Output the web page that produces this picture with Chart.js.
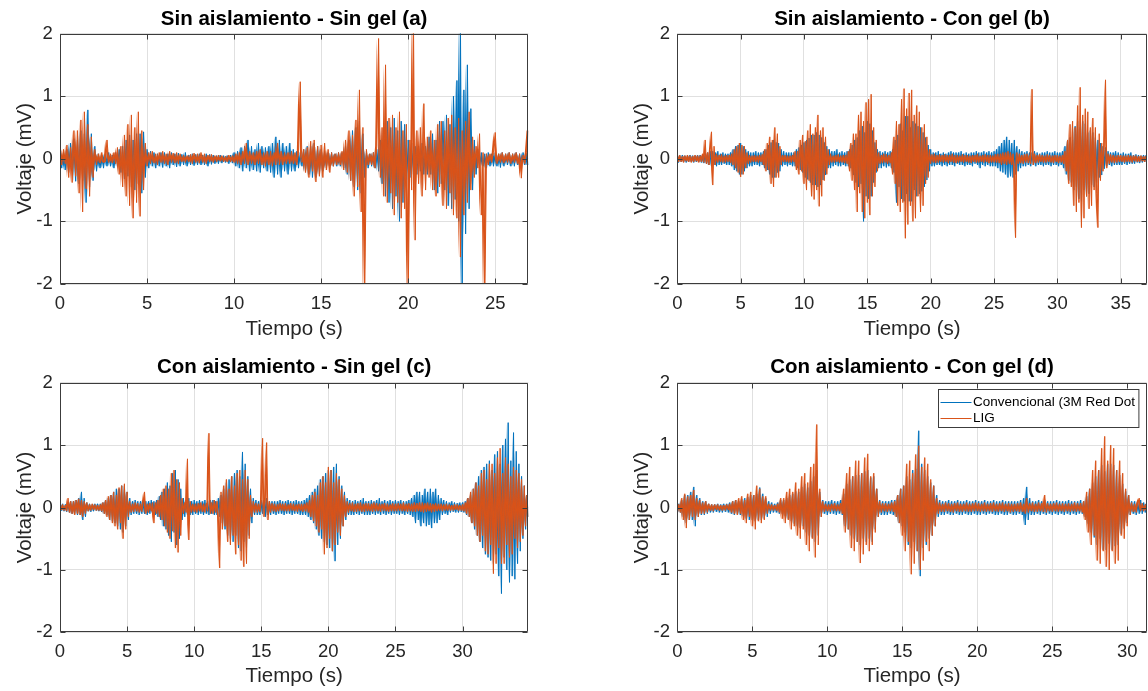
<!DOCTYPE html>
<html>
<head>
<meta charset="utf-8">
<script src="https://cdn.jsdelivr.net/npm/chart.js@4.4.1/dist/chart.umd.min.js"></script>
<style>
  html, body { margin: 0; padding: 0; background: #fff; }
  body { width: 1148px; height: 691px; position: relative; overflow: hidden; }
  canvas { position: absolute; }
</style>
</head>
<body>
<canvas id="panelA" width="574" height="345" style="left:0;top:0"></canvas>
<canvas id="panelB" width="531" height="345" style="left:617px;top:0"></canvas>
<canvas id="panelC" width="574" height="346" style="left:0;top:345px"></canvas>
<canvas id="panelD" width="531" height="346" style="left:617px;top:345px"></canvas>
<script>
// sampling step of the stored traces (s); one line below = one second
const DT = 0.1;

const titles = [
	"Sin aislamiento - Sin gel (a)",
	"Sin aislamiento - Con gel (b)",
	"Con aislamiento - Sin gel (c)",
	"Con aislamiento - Con gel (d)"
];
const xMaxs = [26.9, 37.05, 34.9, 31.3];
const yTicks = [-2, -1, 0, 1, 2];
const seriesNames = ["Convencional (3M Red Dot", "LIG"];

// (a) voltage, mV
const convA = [
	.05,-.15,.1,-.18,.15,-.22,.25,-.2,.32,-.36,
	.3,-.4,.45,-.35,.4,-.7,.78,-.45,.4,-.35,
	.2,-.2,.08,-.15,.06,-.15,.08,-.12,.1,-.12,
	.06,-.15,.1,-.12,.15,-.22,.2,-.32,.3,-.28,
	.38,-.45,.3,-.5,.4,-.4,.4,-.55,.43,-.3,
	.15,-.15,.12,-.12,.1,-.15,.08,-.12,.1,-.14,
	.1,-.12,.08,-.15,.1,-.1,.08,-.13,.09,-.12,
	.07,-.1,.1,-.12,.06,-.1,.08,-.11,.07,-.1,
	.08,-.1,.06,-.1,.08,-.12,.07,-.09,.06,-.08,
	.05,-.08,.06,-.07,.05,-.06,.05,-.08,.06,-.07,
	.1,-.12,.12,-.15,.18,-.2,.2,-.15,.3,-.2,
	.2,-.18,.15,-.2,.25,-.22,.2,-.15,.18,-.2,
	.2,-.22,.25,-.3,.35,-.25,.3,-.3,.25,-.2,
	.2,-.25,.25,-.2,.15,-.2,.12,-.15,.1,-.12,
	.15,-.2,.2,-.25,.2,-.3,.25,-.3,.2,-.25,
	.15,-.2,.12,-.15,.1,-.12,.1,-.12,.08,-.12,
	.1,-.12,.1,-.15,.2,-.25,.3,-.35,.45,-.45,
	.5,-.5,.6,-.55,.4,-.3,.12,-.15,.08,-.12,
	.1,-.15,.15,-.2,.3,-.4,.5,-.6,.6,-.7,
	.5,-.8,.65,-.6,.45,-1.0,.6,-.7,.55,-.5,
	.3,-.3,.25,-.25,.2,-.25,.2,-.2,.25,-.25,
	.2,-.25,.35,-.25,.4,-.5,.3,-.55,.6,-.4,
	.6,-.5,.7,-.75,.55,-.8,1.0,-.65,1.25,-1.0,
	2.2,-2.2,1.1,-1.2,1.5,-.8,.8,-.5,.3,-.25,
	.15,-.15,.1,-.12,.08,-.15,.1,-.12,.08,-.12,
	.1,-.12,.08,-.14,.1,-.12,.08,-.1,.1,-.12,
	.08,-.12,.1,-.1,.08,-.12,.1,-.1,.08,-.1
];
const ligA = [
	.05,-.1,.15,-.08,.22,-.3,.18,-.38,.45,-.28,
	.45,-.55,.62,-.85,.75,-.48,.55,-.6,.35,-.3,
	.15,-.1,.08,-.07,.1,-.06,-.05,.3,-.06,.08,
	-.07,.1,-.08,.18,-.25,.2,-.45,.38,-.6,.55,
	-.75,.7,-.95,.5,-.7,.75,-.92,.45,-.5,.25,
	-.12,.1,-.08,.12,-.07,.08,-.1,.1,-.06,.12,
	-.08,.08,-.1,.12,-.06,.09,-.07,.1,-.08,.08,
	-.05,.06,-.06,.05,-.05,.07,-.08,.09,-.06,.08,
	-.07,.1,-.06,.08,-.08,.06,-.05,.07,-.06,.05,
	-.05,.06,-.04,.05,-.05,.04,-.05,.06,-.05,.05,
	-.06,.08,-.08,.1,-.1,.12,-.08,.25,-.1,.12,
	-.08,.1,-.1,.12,-.08,.15,-.1,.1,-.12,.12,
	-.1,.12,-.12,.1,-.1,.25,-.1,.12,-.1,.1,
	-.08,.1,-.08,.12,-.08,.1,-.1,.08,1.23,-.06,
	.15,-.22,.18,-.3,.28,-.2,.3,-.37,.2,-.28,
	.22,-.3,.25,-.18,.15,-.22,.1,-.12,.08,-.1,
	.1,-.1,.12,-.18,.3,-.22,.45,-.35,.38,-.6,
	.62,-.45,1.1,-.85,.5,-2.3,.15,-.1,.08,-.1,
	.1,-.15,.2,1.92,-.3,.5,-.6,1.5,-.7,.65,
	-.55,.7,-.9,.5,-.7,.75,-.95,.45,-.8,.55,
	-2.3,.3,-.5,2.3,-1.3,.45,-.4,.5,-.6,.88,
	-.5,.35,-.3,.45,-.5,.3,-.6,.55,-.45,.6,
	-.75,.45,-.8,.65,-.55,.7,-.9,.5,-.95,.65,
	-1.57,.45,-.9,.6,-.7,.75,-.5,.35,-.3,.2,
	-.15,.4,-.9,.1,-2.3,.08,-.1,.08,-.06,.1,
	.42,-.08,.08,-.06,.1,-.07,.08,-.06,.1,-.08,
	.08,-.06,.1,-.08,.08,-.31,.06,-.08,.1,.45
];

// (b)
const convB = [
	.04,-.06,.05,-.05,.06,-.05,.05,-.06,.04,-.05,
	.06,-.05,.05,-.06,.05,-.05,.06,-.05,.06,-.06,
	.06,-.07,.08,-.08,.1,-.1,.12,-.12,.12,-.1,
	.1,-.12,.12,-.1,.08,-.1,.1,-.08,.08,-.1,
	.08,-.1,.1,-.12,.15,-.18,.2,-.2,.22,-.25,
	.25,-.25,.2,-.2,.15,-.15,.12,-.12,.1,-.12,
	.1,-.1,.12,-.1,.1,-.12,.1,-.1,.12,-.15,
	.15,-.18,.22,-.25,.26,-.3,.3,-.3,.26,-.22,
	.25,-.2,.15,-.12,.12,-.1,.1,-.12,.1,-.1,
	.1,-.12,.1,-.12,.15,-.15,.18,-.18,.22,-.22,
	.26,-.3,.3,-.33,.33,-.38,.38,-.42,.38,-.42,
	.42,-.45,.38,-.42,.34,-.34,.26,-.26,.2,-.15,
	.15,-.15,.12,-.12,.12,-.1,.15,-.12,.1,-.12,
	.12,-.1,.1,-.12,.12,-.12,.15,-.15,.22,-.26,
	.3,-.38,.34,-.45,.45,-.4,.52,-1.0,.42,-.6,
	.6,-.64,.56,-.6,.45,-.38,.26,-.22,.15,-.15,
	.12,-.15,.1,-.12,.12,-.14,.1,-.12,.12,-.15,
	.15,-.22,.3,-.7,.38,-.45,.56,-.64,.45,-.68,
	.68,-.56,.68,-.68,.5,-.68,.6,-.5,.56,-.6,
	.52,-.56,.5,-.52,.42,-.45,.34,-.34,.22,-.2,
	.15,-.12,.1,-.12,.1,-.1,.12,-.1,.08,-.12,
	.1,-.1,.08,-.12,.1,-.1,.12,-.1,.1,-.12,
	.1,-.08,.1,-.1,.12,-.1,.08,-.12,.1,-.1,
	.08,-.1,.1,-.12,.1,-.08,.12,-.1,.1,-.15,
	.1,-.1,.12,-.12,.1,-.1,.12,-.12,.1,-.12,
	.12,-.12,.15,-.15,.2,-.2,.25,-.22,.3,-.25,
	.35,-.3,.3,-.28,.25,-.3,.3,-.25,.2,-.2,
	.15,-.15,.12,-.12,.1,-.12,.12,-.1,.1,-.12,
	.1,-.1,.12,-.12,.1,-.1,.08,-.1,.1,-.12,
	.1,-.1,.12,-.1,.1,-.12,.1,-.1,.12,-.1,
	.1,-.12,.1,-.1,.12,-.15,.2,-.25,.3,-.35,
	.34,-.38,.3,-.5,.52,-.45,.6,-.64,.5,-.68,
	.6,-.5,.56,-.6,.42,-.56,.45,-.42,.42,-.45,
	.34,-.38,.3,-.3,.25,-.26,.2,-.16,.18,-.12,
	.12,-.1,.1,-.12,.1,-.1,.12,-.1,.1,-.1,
	.08,-.1,.1,-.08,.08,-.1,.08,-.08,.1,-.08,
	.06,-.08,.07,-.06,.06,-.07,.05,-.06,.06,-.05,
	.05
];
const ligB = [
	.03,-.05,.06,-.05,.04,-.06,.05,-.04,.06,-.05,
	.05,-.06,.04,-.05,.06,-.04,.05,-.06,.05,-.05,
	.08,-.06,.3,-.08,.1,-.1,.15,.43,-.42,.2,
	-.1,.08,-.06,.06,-.05,.07,-.06,.05,-.06,.06,
	-.05,.06,-.06,.08,-.1,.15,-.15,.2,-.22,.25,
	-.29,.22,-.25,.2,-.15,.1,-.08,.06,-.06,.05,
	-.05,.06,-.05,.05,-.06,.06,-.05,.07,-.1,.15,
	-.2,.25,-.18,.35,-.4,.3,-.45,.5,-.3,.4,
	-.3,.2,-.1,.06,-.05,.06,-.05,.05,-.06,.05,
	-.06,.06,-.05,.12,-.18,.12,-.25,.3,-.2,.38,
	-.4,.28,-.5,.45,-.35,.55,-.6,.4,-.65,.5,
	-.5,.7,-.76,.45,-.6,.5,-.35,.35,-.25,.15,
	-.1,.08,-.06,.05,-.06,.06,-.05,.07,-.06,.05,
	-.06,.06,-.07,.06,-.08,.12,-.2,.25,-.35,.4,
	-.5,.4,-.85,.7,-.55,.75,-.85,.6,-.95,.9,
	-.7,.95,-.9,1.03,-.6,.5,-.45,.3,-.2,.1,
	-.08,.06,-.07,.08,-.06,.07,-.08,.06,-.07,.1,
	-.25,.35,-.4,.6,-.75,.55,-.85,.95,-.7,1.12,
	-1.27,.8,-1.05,1.05,-.75,1.1,-1.0,.7,-.95,.85,
	-.6,.75,-.85,.5,-.75,.55,-.4,.35,-.3,.15,
	-.08,.07,-.06,.08,-.07,.06,-.06,.07,-.05,.06,
	-.06,.07,-.05,.06,-.07,.06,-.05,.08,-.06,.06,
	-.07,.06,-.06,.05,-.05,.07,-.06,.06,-.05,.06,
	-.06,.05,-.07,.06,-.05,.06,-.06,.08,-.06,.05,
	-.05,.06,-.06,.07,-.05,.06,-.07,.06,-.06,.05,
	-.06,.07,-.06,.08,-.07,.08,-.1,.1,-.08,.1,
	-.1,.12,-.08,.1,-.1,.08,-.12,-1.26,.1,-.08,
	.08,-.07,.06,-.08,.07,-.06,.08,-.07,.06,-.08,
	1.11,-.1,.08,-.07,.06,-.06,.07,-.05,.06,-.06,
	.05,-.06,.07,-.05,.06,-.06,.05,-.07,.06,-.05,
	.06,-.07,.05,-.06,.06,-.08,.12,-.2,.3,-.4,
	.55,-.45,.6,-.75,.5,-.85,.85,-.7,1.14,-1.1,
	.7,-.95,.8,-.6,.75,-.8,.5,-.75,.65,-.5,
	.5,-.55,-1.1,.4,-.35,.25,-.2,.15,1.26,-.15,
	.08,-.08,.07,-.06,.06,-.07,.05,-.06,.06,-.05,
	.06,-.05,.05,-.06,.05,-.05,.06,-.05,.05,-.06,
	.05,-.04,.05,-.05,.04,-.05,.05,-.04,.04,-.05,
	.04
];

// (c)
const convC = [
	0,-.05,.06,-.06,.05,-.07,.08,-.08,.1,-.1,
	.1,-.1,.12,-.12,.15,-.12,.25,-.2,.15,-.15,
	.08,-.06,.06,-.07,.05,-.06,.06,-.05,.06,-.06,
	.06,-.07,.08,-.1,.12,-.12,.15,-.2,.2,-.22,
	.25,-.25,.3,-.3,.3,-.35,.35,-.4,.35,-.3,
	.25,-.2,.15,-.12,.1,-.1,.12,-.1,.1,-.12,
	.1,-.1,.12,-.1,.1,-.12,.1,-.1,.12,-.1,
	.1,-.12,.12,-.15,.18,-.2,.25,-.3,.3,-.35,
	.4,-.45,.35,-.55,.55,-.4,.6,-.6,.45,-.5,
	.3,-.2,.15,-.15,.12,-.12,.15,-.12,.1,-.12,
	.12,-.1,.1,-.12,.12,-.1,.1,-.12,.12,-.1,
	.1,-.12,.12,-.1,.12,-.12,.1,-.12,.15,-.15,
	.2,-.25,.3,-.35,.4,-.45,.45,-.5,.5,-.55,
	.55,-.45,.6,-.65,.5,-.7,.89,-.55,.7,-.65,
	.5,-.45,.3,-.25,.15,-.12,.12,-.12,.1,-.12,
	.12,-.1,.12,-.15,.15,-.12,.1,-.12,.1,-.1,
	.1,-.12,.1,-.1,.12,-.1,.1,-.12,.1,-.1,
	.12,-.1,.1,-.12,.1,-.1,.12,-.1,.1,-.12,
	.1,-.12,.12,-.12,.15,-.15,.2,-.2,.25,-.25,
	.3,-.35,.35,-.45,.45,-.5,.5,-.55,.55,-.6,
	.6,-.65,.6,-.7,.65,-.86,.7,-.6,.5,-.5,
	.35,-.3,.25,-.2,.15,-.12,.12,-.12,.1,-.12,
	.12,-.1,.1,-.12,.12,-.1,.15,-.12,.1,-.12,
	.1,-.12,.12,-.1,.1,-.12,.12,-.1,.15,-.12,
	.1,-.1,.12,-.12,.1,-.1,.12,-.12,.1,-.1,
	.12,-.1,.1,-.12,.12,-.1,.1,-.12,.1,-.1,
	.12,-.12,.15,-.15,.2,-.25,.25,-.2,.25,-.3,
	.2,-.25,.3,-.3,.25,-.28,.3,-.33,.25,-.25,
	.3,-.25,.2,-.2,.15,-.12,.12,-.1,.1,-.12,
	.08,-.08,.1,-.07,.08,-.08,.07,-.08,.08,-.07,
	.08,-.08,.1,-.12,.15,-.15,.2,-.25,.3,-.35,
	.4,-.45,.5,-.55,.6,-.65,.65,-.75,.7,-.8,
	.75,-.85,.6,-.9,.85,-.75,.9,-1.1,.7,-1.38,
	1.0,-.8,1.1,-1.0,1.36,-1.2,.75,-1.1,1.2,-1.15,
	.9,-.9,.7,-.7,.5,-.5,.35,-.35,.2,-.15
];
const ligC = [
	0,-.04,.05,-.05,.04,-.06,.15,-.08,.1,-.1,
	.1,-.12,.12,-.1,.14,-.12,.12,-.15,.1,-.1,
	.08,-.06,.05,-.05,.06,-.04,.05,-.05,.04,-.05,
	.05,-.06,.08,-.1,.12,-.15,.18,-.2,.2,-.25,
	.25,-.3,.2,-.35,.32,-.25,.35,-.5,.38,-.35,
	.25,-.15,.1,-.08,.06,-.07,.08,-.06,.07,-.08,
	.06,-.07,.08,.25,-.1,.06,-.08,.07,-.06,.08,
	-.25,.08,-.1,.12,-.15,.2,-.2,.3,-.3,.35,
	-.4,.3,-.5,.55,-.38,.6,-.65,.45,-.72,.4,
	-.45,.15,-.1,.08,-.08,.78,-.52,.1,-.08,.06,
	-.07,.06,-.08,.07,-.06,.08,-.07,.06,-.08,.07,
	-.06,1.19,-.1,.08,-.1,.12,-.08,.1,-.12,-.97,
	.25,-.35,.35,-.3,.45,-.55,.3,-.6,.5,-.45,
	.35,-.75,.55,-.6,.6,-.85,.45,-.95,.6,-.9,
	.45,-.5,.2,-.15,.1,-.08,.07,-.08,.06,-.07,
	.08,1.11,-.15,.1,1.04,-.2,.1,-.08,.07,-.06,
	.06,-.07,.05,-.06,.07,-.05,.06,-.06,.07,-.06,
	.05,-.06,.07,-.05,.06,-.06,.05,-.07,.06,-.05,
	.06,-.07,.06,-.06,.08,-.08,.12,-.15,.2,-.22,
	.25,-.3,.2,-.4,.4,-.35,.5,-.75,.4,-.65,
	.65,-.5,.6,-.7,.4,-.6,.55,-.4,.45,-.45,
	.3,-.3,.2,-.15,.1,-.08,.07,-.06,.08,-.07,
	.06,-.07,.07,-.06,.08,-.07,.06,-.07,.07,-.06,
	.07,-.06,.06,-.07,.08,-.06,.07,-.06,.06,-.07,
	.06,-.05,.07,-.06,.06,-.07,.05,-.06,.07,-.06,
	.06,-.06,.07,-.05,.06,-.06,.08,-.06,.06,-.07,
	.07,-.06,.06,-.07,.08,-.07,.07,-.06,.08,-.07,
	.08,-.08,.07,-.07,.08,-.06,.07,-.08,.06,-.07,
	.07,-.06,.06,-.05,.06,-.06,.05,-.05,.06,-.05,
	.05,-.05,.04,-.05,.05,-.04,.05,-.05,.04,-.05,
	.05,-.06,.08,-.1,.15,-.15,.25,-.25,.3,-.3,
	.4,-.45,.35,-.55,.55,-.45,.6,-.7,.45,-.75,
	.7,-.6,.7,-1.06,.55,-.9,.8,-.65,.95,-.9,
	.55,-.9,.8,-.6,.7,-.8,.5,-.75,.65,-.5,
	.6,-.65,.55,-.55,.45,-.45,.35,-.3,.2,-.15
];

// (d)
const convD = [
	0,.06,-.08,.12,-.15,.2,-.25,.2,-.2,.25,
	-.2,.33,-.3,.2,-.15,.15,-.12,.1,-.12,.1,
	-.1,.06,-.08,.05,-.08,.05,-.07,.06,-.08,.05,
	-.08,.06,-.07,.06,-.08,.08,-.1,.1,-.12,.12,
	-.1,.1,-.12,.14,-.14,.15,-.18,.17,-.2,.2,
	-.2,.2,-.22,.22,-.2,.32,-.2,.22,-.18,.15,
	-.15,.1,-.1,.08,-.08,.06,-.08,.08,-.1,.12,
	-.1,.12,-.14,.15,-.18,.2,-.22,.22,-.26,.26,
	-.3,.25,-.33,.33,-.3,.38,-.4,.32,-.45,.42,
	-.48,.5,-.55,.6,-.45,.25,-.15,.12,-.1,.1,
	-.12,.1,-.1,.12,-.1,.1,-.12,.1,-.1,.12,
	-.12,.22,-.3,.38,-.35,.45,-.45,.5,-.5,.52,
	-.55,.52,-.6,.55,-.5,.58,-.55,.6,-.5,.48,
	-.55,.5,-.35,.3,-.15,.12,-.12,.1,-.12,.1,
	-.12,.1,-.1,.12,-.12,.12,-.15,.2,-.25,.3,
	-.3,.35,-.4,.5,-.6,.45,-.65,.6,-.55,.62,
	-.7,1.23,-1.1,.7,-.65,.6,-.6,.5,-.5,.4,
	-.45,.35,-.3,.2,-.15,.12,-.12,.1,-.12,.1,
	-.1,.12,-.12,.1,-.12,.1,-.1,.12,-.12,.1,
	-.12,.1,-.1,.12,-.12,.1,-.12,.1,-.1,.12,
	-.12,.1,-.12,.1,-.1,.12,-.12,.1,-.1,.1,
	-.1,.12,-.12,.1,-.12,.1,-.1,.12,-.12,.1,
	-.12,.1,-.1,.1,-.12,.1,-.12,.1,-.1,.12,
	-.12,.15,-.28,.33,-.2,.15,-.12,.1,-.12,.1,
	-.1,.12,-.12,.1,-.1,.12,-.12,.1,-.1,.1,
	-.12,.1,-.1,.12,-.12,.1,-.1,.1,-.12,.1,
	-.1,.12,-.12,.1,-.1,.1,-.12,.1,-.1,.12,
	-.1,.1,-.15,.18,-.26,.3,-.4,.4,-.48,.5,
	-.6,.6,-.5,.68,-.68,.58,-.68,.7,-.58,.7,
	-.68,.68,-.62,.6,-.6,.52,-.42,.38,-.34,.26,
	-.25,.2,-.12,.1,-.1,.1,-.12,.1,-.1,.12,
	-.1,.08,-.08,.06
];
const ligD = [
	0,.05,-.08,.15,-.2,.22,-.33,.18,-.2,.2,
	-.15,.28,-.2,.15,-.15,.12,-.1,.08,-.1,.1,
	-.08,.06,-.05,.05,-.06,.05,-.04,.05,-.05,.04,
	-.05,.04,-.05,.05,-.04,.06,-.08,.1,-.1,.12,
	-.12,.15,-.1,.18,-.2,.12,-.25,.22,-.15,.25,
	-.3,.2,-.35,.35,-.22,.3,-.25,.18,-.2,.18,
	-.1,.06,-.05,.05,-.05,.04,-.05,.06,-.08,.15,
	-.18,.15,-.25,.25,-.2,.3,-.35,.25,-.3,.4,
	-.45,.3,-.5,.5,-.35,.55,-.6,.4,-.7,.65,
	-.5,.7,-.8,1.33,-.6,.3,-.15,.1,-.07,.06,
	-.06,.05,-.07,.06,-.05,.07,-.06,.05,-.06,.07,
	-.1,.3,-.4,.55,-.35,.65,-.65,.5,-.7,.75,
	-.55,.75,-.89,.55,-.75,.8,-.6,.86,-.7,.5,
	-.6,.55,-.4,.3,-.15,.1,-.08,.07,-.06,.07,
	-.07,.06,-.06,.08,-.07,.1,-.15,.2,-.25,.3,
	-.45,.35,-.7,.7,-.55,.75,-1.07,.55,-.9,.85,
	-.7,.99,-1.0,.65,-.85,.8,-.55,.7,-.7,.45,
	-.45,.35,-.3,.15,-.1,.08,-.07,.06,-.07,.08,
	-.06,.07,-.07,.06,-.08,.07,-.06,.08,-.07,.06,
	-.07,.06,-.06,.08,-.07,.06,-.07,.07,-.06,.08,
	-.06,.07,-.07,.06,-.06,.08,-.07,.06,-.06,.07,
	-.07,.08,-.06,.06,-.07,.07,-.06,.08,-.07,.06,
	-.06,.07,-.08,.06,-.07,.06,-.06,.07,-.07,.08,
	-.07,.06,-.1,.15,-.08,.07,-.06,.08,-.07,.06,
	-.07,.08,-.06,.07,-.07,.2,-.08,.07,-.06,.06,
	-.07,.07,-.06,.08,-.07,.06,-.06,.07,-.07,.06,
	-.06,.07,-.07,.06,-.06,.08,-.07,.07,-.06,.07,
	-.08,.1,-.2,.25,-.4,.3,-.6,.6,-.45,.75,
	-.85,.6,-.9,.95,-.7,1.14,-.95,.75,-1.0,1.0,
	-.7,.95,-.9,.6,-.85,.75,-.45,.55,-.5,.3,
	-.3,.2,-.12,.08,-.07,.06,-.08,.07,.15,-.06,
	.07,-.06,.05,-.05
];

const BLUE = "#0072BD";
const ORANGE = "#D95319";
const AXIS_COLOR = "#3c3c3c";
const TEXT_COLOR = "#262626";
const FONT = '"Liberation Sans", Arial, Helvetica, sans-serif';

// canvas-relative layout of each axes box
const layouts = [
	{ id: "panelA", yW: 60, xH: 61, padR: 45.7, tTop: 6.6, tBot: 2.3, xlBot: 2.9 },
	{ id: "panelB", yW: 60.3, xH: 61, padR: 1.3, tTop: 6.6, tBot: 2.3, xlBot: 2.9 },
	{ id: "panelC", yW: 60, xH: 58.7, padR: 45.7, tTop: 9.6, tBot: 3.5, xlBot: 2.5 },
	{ id: "panelD", yW: 60.3, xH: 58.7, padR: 1.3, tTop: 9.6, tBot: 3.5, xlBot: 2.5 }
];

const toPoints = vals => vals.map((v, i) => ({ x: +(i * DT).toFixed(2), y: v }));
// same samples, each paired with the next one: filling between the trace and
// this copy paints the full swing between neighbouring samples
const toNextPoints = vals => vals.map((v, i) => ({
	x: +(i * DT).toFixed(2),
	y: vals[Math.min(i + 1, vals.length - 1)]
}));

// box round the axes plus inward ticks on all four sides
const boxAxes = {
	id: "boxAxes",
	afterDatasetsDraw(chart) {
		const { ctx, chartArea: a, scales: { x, y } } = chart;
		const L = Math.round(a.left) + 0.5, R = Math.round(a.right) - 0.5;
		const T = Math.round(a.top) + 0.5, B = Math.round(a.bottom) - 0.5;
		const tl = 5;
		ctx.save();
		ctx.strokeStyle = AXIS_COLOR;
		ctx.lineWidth = 1;
		ctx.beginPath();
		ctx.rect(L, T, R - L, B - T);
		x.ticks.forEach(t => {
			const px = Math.round(x.getPixelForValue(t.value)) + 0.5;
			ctx.moveTo(px, B); ctx.lineTo(px, B - tl);
			ctx.moveTo(px, T); ctx.lineTo(px, T + tl);
		});
		y.ticks.forEach(t => {
			const py = Math.round(y.getPixelForValue(t.value)) + 0.5;
			ctx.moveTo(L, py); ctx.lineTo(L + tl, py);
			ctx.moveTo(R, py); ctx.lineTo(R - tl, py);
		});
		ctx.stroke();
		ctx.restore();
	}
};

// legend drawn inside the axes, top-right
const insetLegend = {
	id: "insetLegend",
	afterDraw(chart, args, opts) {
		const { ctx, chartArea: a } = chart;
		const x0 = Math.round(a.right - opts.right - opts.width) + 0.5;
		const y0 = Math.round(a.top + opts.top) + 0.5;
		ctx.save();
		ctx.fillStyle = "#fff";
		ctx.fillRect(x0, y0, opts.width, opts.height);
		ctx.strokeStyle = AXIS_COLOR;
		ctx.lineWidth = 1;
		ctx.strokeRect(x0, y0, opts.width, opts.height);
		ctx.font = "13.5px " + FONT;
		ctx.textBaseline = "middle";
		ctx.textAlign = "left";
		chart.data.datasets.filter(ds => ds.label).forEach((ds, i) => {
			const yy = Math.round(y0 + opts.rowTop + i * opts.rowGap) + 0.5;
			ctx.strokeStyle = ds.borderColor;
			ctx.beginPath();
			ctx.moveTo(x0 + 2, yy);
			ctx.lineTo(x0 + 33, yy);
			ctx.stroke();
			ctx.fillStyle = "#000";
			ctx.fillText(ds.label, x0 + 34.4, yy);
		});
		ctx.restore();
	}
};

const series = [
	[convA, ligA],
	[convB, ligB],
	[convC, ligC],
	[convD, ligD]
];

layouts.forEach((lay, k) => {
	const [conv, lig] = series[k];
	const withLegend = k === 3;
	const trace = (vals, color, name, order) => ({
		label: name,
		data: toPoints(vals),
		borderColor: color,
		backgroundColor: color,
		borderWidth: 1,
		pointRadius: 0,
		tension: 0,
		fill: "+1",
		order: order
	});
	const partner = (vals, order) => ({
		data: toNextPoints(vals),
		borderColor: "transparent",
		borderWidth: 0,
		pointRadius: 0,
		tension: 0,
		fill: false,
		order: order
	});

	new Chart(document.getElementById(lay.id), {
		type: "line",
		data: {
			datasets: [
				trace(conv, BLUE, seriesNames[0], 2),
				partner(conv, 3),
				trace(lig, ORANGE, seriesNames[1], 0),
				partner(lig, 1)
			]
		},
		options: {
			responsive: false,
			animation: false,
			devicePixelRatio: 1,
			parsing: false,
			normalized: true,
			events: [],
			layout: { padding: { left: 0, right: lay.padR, top: 0, bottom: 0 } },
			plugins: {
				legend: { display: false },
				tooltip: { enabled: false },
				title: {
					display: true,
					text: titles[k],
					fullSize: false,
					color: "#000",
					font: { family: FONT, size: 20.5, weight: "bold", lineHeight: 1.2 },
					padding: { top: lay.tTop, bottom: lay.tBot }
				},
				insetLegend: withLegend
					? { width: 200.4, height: 38, right: 8, top: 6.6, rowTop: 12.4, rowGap: 16 }
					: undefined
			},
			scales: {
				x: {
					type: "linear",
					min: 0,
					max: xMaxs[k],
					afterFit: s => { s.height = lay.xH; },
					border: { display: false },
					grid: { color: "#e0e0e0", lineWidth: 1, drawTicks: false },
					ticks: {
						stepSize: 5,
						includeBounds: false,
						autoSkip: false,
						maxRotation: 0,
						padding: 9,
						color: TEXT_COLOR,
						font: { family: FONT, size: 18.5 }
					},
					title: {
						display: true,
						text: "Tiempo (s)",
						color: TEXT_COLOR,
						font: { family: FONT, size: 20.5 },
						padding: { top: 0, bottom: lay.xlBot }
					}
				},
				y: {
					type: "linear",
					min: -2,
					max: 2,
					afterFit: s => { s.width = lay.yW; },
					afterBuildTicks: s => { s.ticks = yTicks.map(v => ({ value: v })); },
					border: { display: false },
					grid: { color: "#e0e0e0", lineWidth: 1, drawTicks: false },
					ticks: {
						padding: 7.3,
						color: TEXT_COLOR,
						font: { family: FONT, size: 18.5 }
					},
					title: {
						display: true,
						text: "Voltaje (mV)",
						color: TEXT_COLOR,
						font: { family: FONT, size: 20.5 },
						padding: { top: 13.1, bottom: 0 }
					}
				}
			}
		},
		plugins: withLegend ? [boxAxes, insetLegend] : [boxAxes]
	});
});
</script>
</body>
</html>
